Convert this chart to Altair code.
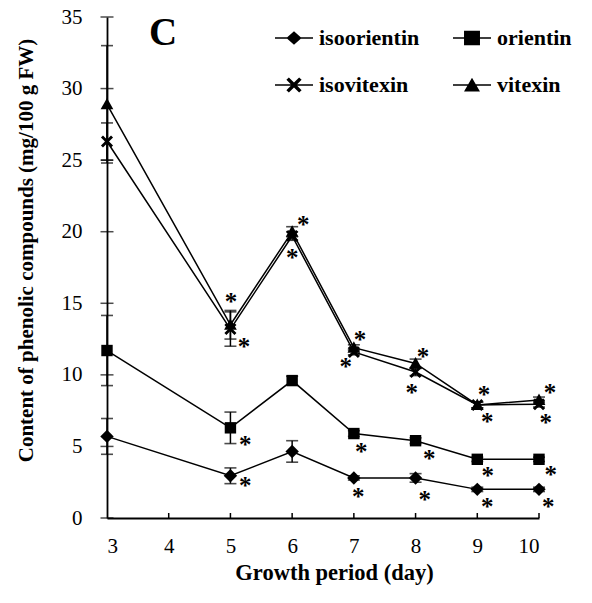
import altair as alt
import pandas as pd

# ---- data ----
days = [3, 5, 6, 7, 8, 9, 10]
series_names = ["isoorientin", "orientin", "isovitexin", "vitexin"]
isoorientin = [5.7, 2.95, 4.65, 2.8, 2.8, 2.0, 2.0]
orientin = [11.7, 6.3, 9.6, 5.9, 5.4, 4.1, 4.1]
isovitexin = [26.3, 13.2, 19.7, 11.6, 10.2, 7.9, 7.95]
vitexin = [28.9, 13.5, 20.0, 11.9, 10.8, 7.9, 8.25]
isoorientin_err = [1.25, 0.55, 0.75, 0.15, 0.3, 0.15, 0.15]
orientin_err = [2.45, 1.1, 0.3, 0.2, 0.2, 0.15, 0.15]
isovitexin_err = [1.3, 1.2, 0.3, 0.2, 0.25, 0.2, 0.2]
vitexin_err = [4.1, 1.0, 0.35, 0.2, 0.3, 0.2, 0.2]

# significance asterisks (day, value)
ast_x = [5.01, 5.22, 6.18, 6.0, 7.1, 6.87, 8.12, 7.94, 9.11, 9.16, 10.18, 10.11,
         5.24, 7.12, 8.22, 9.17, 10.19,
         5.24, 7.07, 8.15, 9.16, 10.15]
ast_y = [15.37, 12.23, 20.75, 18.45, 12.72, 10.83, 11.53, 9.01, 8.87, 6.99, 9.01, 6.92,
         5.38, 4.89, 4.4, 3.21, 3.28,
         2.52, 1.75, 1.54, 1.05, 1.05]

x_ticks = [3, 4, 5, 6, 7, 8, 9, 10]
y_ticks = [0, 5, 10, 15, 20, 25, 30, 35]
panel_label = ["C"]
panel_x = [3.91]
panel_y = [33.9]

# ---- tables ----
vals = {"isoorientin": (isoorientin, isoorientin_err), "orientin": (orientin, orientin_err),
        "isovitexin": (isovitexin, isovitexin_err), "vitexin": (vitexin, vitexin_err)}
rows = []
for s in series_names:
    v, e = vals[s]
    for d, m, er in zip(days, v, e):
        rows.append({"day": d, "series": s, "value": m, "lo": m - er, "hi": m + er})
df = pd.DataFrame(rows)
caps = pd.concat([df.assign(cap=df["lo"]), df.assign(cap=df["hi"])])
ast = pd.DataFrame({"day": ast_x, "value": ast_y, "t": ["*"] * len(ast_x)})
xt = pd.DataFrame({"day": x_ticks[1:], "y0": [0] * (len(x_ticks) - 1), "y1": [0.35] * (len(x_ticks) - 1)})
yt = pd.DataFrame({"day": [3] * len(y_ticks), "value": y_ticks})
lab = pd.DataFrame({"day": panel_x, "value": panel_y, "t": panel_label})

FONT = "Liberation Serif"

xs = alt.Scale(domain=[3, 10], nice=False, zero=False)
ys = alt.Scale(domain=[0, 35], nice=False)

X = alt.X("day:Q", scale=xs, title="Growth period (day)",
          axis=alt.Axis(values=x_ticks, format="d", labelBaseline="alphabetic", labelPadding=34,
                        titleX=227, titleY=61, titleBaseline="alphabetic", titleAnchor="start",
                        titleAlign="center", titleFontSize=22.5))
Y = alt.Y("value:Q", scale=ys, title="Content of phenolic compounds (mg/100 g FW)",
          axis=alt.Axis(values=y_ticks, labelPadding=25, titleX=-81, titleY=233,
                        titleAlign="center", titleBaseline="middle", titleAngle=-90))

plot_paths = [
    "M0,-1L1,0L0,1L-1,0Z",
    "M-0.85,-0.85L0.85,-0.85L0.85,0.85L-0.85,0.85Z",
    "M-0.6,-0.9L0,-0.3L0.6,-0.9L0.9,-0.6L0.3,0L0.9,0.6L0.6,0.9L0,0.3L-0.6,0.9L-0.9,0.6L-0.3,0L-0.9,-0.6Z",
    "M0,-0.95L0.95,0.75L-0.95,0.75Z",
]
LINE = "M-1,-0.04L1,-0.04L1,0.04L-1,0.04Z"
legend_paths = [
    LINE + "M0,-0.36L0.4,0L0,0.36L-0.4,0Z",
    LINE + "M-0.42,-0.38L0.42,-0.38L0.42,0.38L-0.42,0.38Z",
    LINE + "M-0.27,-0.4L0,-0.13L0.27,-0.4L0.4,-0.27L0.13,0L0.4,0.27L0.27,0.4L0,0.13L-0.27,0.4L-0.4,0.27L-0.13,0L-0.4,-0.27Z",
    LINE + "M0,-0.38L0.42,0.34L-0.42,0.34Z",
]

base = alt.Chart(df)
lines = base.mark_line(color="black", strokeWidth=1.5).encode(x=X, y=Y, detail="series:N")
err = base.mark_rule(color="black", strokeWidth=1.5).encode(x="day:Q", y="lo:Q", y2="hi:Q")
capm = alt.Chart(caps).mark_tick(orient="horizontal", color="black", size=12, thickness=1.6).encode(
    x="day:Q", y="cap:Q")
pts = base.mark_point(filled=True, color="black", size=180, opacity=1).encode(
    x="day:Q", y="value:Q",
    shape=alt.Shape("series:N", scale=alt.Scale(domain=series_names, range=plot_paths), legend=None))
leg = base.mark_point(filled=True, color="black", size=1444, opacity=0).encode(
    x="day:Q", y="value:Q",
    shape=alt.Shape("series:N", sort=series_names,
                    scale=alt.Scale(domain=series_names, range=legend_paths),
                    legend=alt.Legend(title=None, orient="none", legendX=167, legendY=1, columns=2,
                                      direction="horizontal",
                                      columnPadding=30, rowPadding=16, symbolSize=1444,
                                      symbolOpacity=1, symbolFillColor="black",
                                      labelFont=FONT, labelFontSize=22, labelFontWeight="bold",
                                      labelColor="black", labelOffset=5, padding=0)))
asterisks = alt.Chart(ast).mark_text(font=FONT, fontSize=25, fontWeight="bold", color="black",
                                     baseline="alphabetic", dy=12).encode(
    x="day:Q", y="value:Q", text="t:N")
xtk = alt.Chart(xt).mark_rule(color="black", strokeWidth=1.5).encode(x="day:Q", y="y0:Q", y2="y1:Q")
ytk = alt.Chart(yt).mark_tick(orient="horizontal", color="black", size=13, thickness=1.5).encode(
    x="day:Q", y="value:Q")
panel = alt.Chart(lab).mark_text(font=FONT, fontSize=39, fontWeight="bold", color="black",
                                 baseline="middle", align="center").encode(
    x="day:Q", y="value:Q", text="t:N")

chart = alt.layer(lines, err, capm, pts, leg, asterisks, xtk, ytk, panel).resolve_scale(
    shape="independent"
).properties(
    width=432, height=501,
    autosize=alt.AutoSizeParams(type="none"),
    padding={"left": 107, "top": 17, "right": 53, "bottom": 85},
).configure_view(stroke=None).configure_axis(
    grid=False, ticks=False, tickSize=0, domainColor="black", domainWidth=1.8,
    labelFont=FONT, labelFontSize=21, labelColor="black",
    titleFont=FONT, titleFontSize=21, titleFontWeight="bold", titleColor="black",
)

chart.save("out.html", embed_options={"renderer": "svg", "actions": False})
